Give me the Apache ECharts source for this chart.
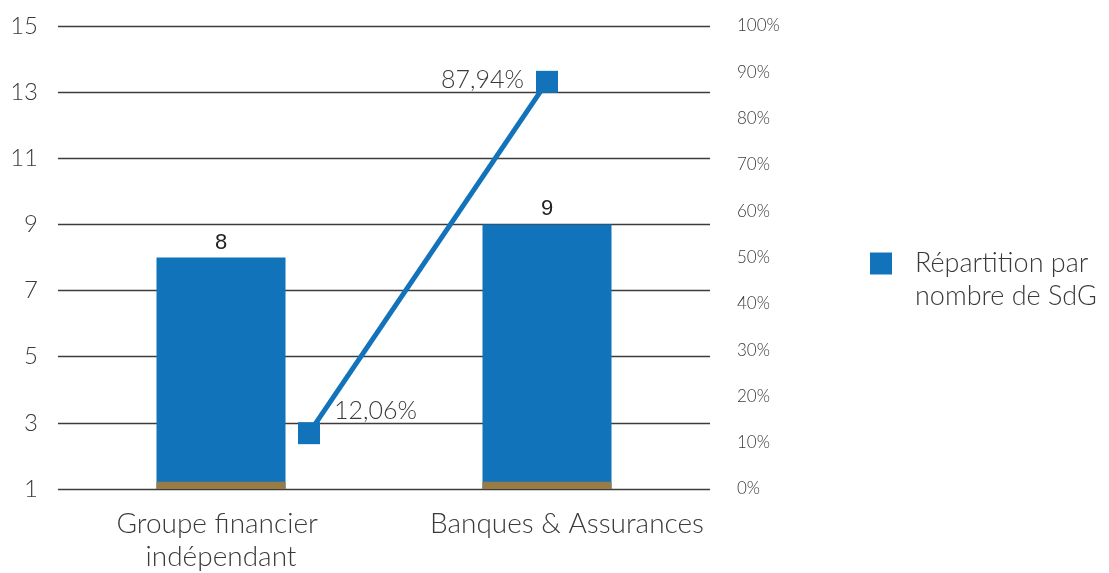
<!DOCTYPE html>
<html>
<head>
<meta charset="utf-8">
<script src="https://cdn.jsdelivr.net/npm/echarts@6/dist/echarts.min.js"></script>
<style>
  html, body { margin: 0; padding: 0; background: #fff; }
  #chart { width: 1109px; height: 573px; }
</style>
</head>
<body>
<div id="chart"></div>
<script>
// Catégories de sociétés de gestion
const categories = ['Groupe financier indépendant', 'Banques & Assurances'];
// Nombre de SdG par catégorie (axe de gauche)
const sdgCount = [8, 9];
// Socle brun au pied des barres
const baseBand = [1.22, 1.22];
// Répartition en % (axe de droite) et position de chaque point sur l'axe secondaire
const shareX = [0.77, 1.5];
const sharePct = [12.06, 87.94];
// Graduations
const leftTicks = { min: 1, max: 15, step: 2 };
const rightTicks = { min: 0, max: 100, step: 10 };

const FONT = 'Lato';
const TXT = '#3a3a3a';
const BLUE = '#1174ba';
const BROWN = '#9a7b45';

const chart = echarts.init(document.getElementById('chart'), null, { renderer: 'canvas' });

chart.setOption({
  animation: false,
  backgroundColor: '#ffffff',
  grid: { left: 58, right: 399, top: 26, bottom: 83, containLabel: false },
  legend: {
    data: ['Répartition par nombre de SdG'],
    left: 870,
    top: 214,
    padding: 0,
    icon: 'rect',
    itemWidth: 22,
    itemHeight: 22,
    // an empty line above keeps the icon level with the first text line
    formatter: name => '\n' + name.replace(' nombre', '\nnombre'),
    textStyle: {
      fontFamily: FONT, fontWeight: 300, fontSize: 27, color: TXT,
      lineHeight: 33,
      padding: [0, 0, 0, 18]
    }
  },
  xAxis: [
    {
      type: 'category',
      data: categories.map((c, i) => i === 1
        ? { value: c, textStyle: { padding: [0, 0, 0, 40] } }
        : c),
      axisLine: { show: false },
      axisTick: { show: false },
      axisLabel: {
        interval: 0,
        margin: 18,
        fontFamily: FONT, fontWeight: 300, fontSize: 28, color: TXT,
        width: 290, overflow: 'break', lineHeight: 33
      }
    },
    {
      type: 'value',
      min: 0, max: 2,
      show: false
    }
  ],
  yAxis: [
    {
      type: 'value',
      min: leftTicks.min, max: leftTicks.max, interval: leftTicks.step,
      axisLine: { show: false },
      axisTick: { show: false },
      axisLabel: { margin: 20, fontFamily: FONT, fontWeight: 300, fontSize: 24, color: TXT },
      splitLine: { show: true, lineStyle: { color: '#3c3c3c', width: 1.3 } }
    },
    {
      type: 'value',
      min: rightTicks.min, max: rightTicks.max, interval: rightTicks.step,
      position: 'right',
      axisLine: { show: false },
      axisTick: { show: false },
      splitLine: { show: false },
      axisLabel: {
        margin: 27, formatter: '{value}%',
        fontFamily: FONT, fontWeight: 300, fontSize: 17, color: TXT
      }
    }
  ],
  series: [
    {
      name: 'Répartition par nombre de SdG',
      type: 'bar',
      data: sdgCount,
      barWidth: 129,
      itemStyle: { color: BLUE },
      label: {
        show: true, position: 'top', distance: 4,
        fontFamily: 'Liberation Sans', fontSize: 22, color: '#222'
      }
    },
    {
      name: 'Socle',
      type: 'bar',
      data: baseBand,
      barWidth: 129,
      barGap: '-100%',
      itemStyle: { color: BROWN },
      silent: true
    },
    {
      name: 'Répartition (%)',
      type: 'line',
      xAxisIndex: 1,
      yAxisIndex: 1,
      data: shareX.map((x, i) => ({
        value: [x, sharePct[i]],
        label: i === 0
          ? { position: 'right', distance: 14, offset: [0, -22] }
          : { position: 'left', distance: 12, offset: [0, -2] }
      })),
      symbol: 'rect',
      symbolSize: 22,
      z: 5,
      lineStyle: { color: '#1273bb', width: 5 },
      itemStyle: { color: '#1273bb' },
      label: {
        show: true,
        fontFamily: FONT, fontWeight: 300, fontSize: 25, color: TXT,
        formatter: p => p.value[1].toFixed(2).replace('.', ',') + '%'
      }
    }
  ]
});
</script>
</body>
</html>
